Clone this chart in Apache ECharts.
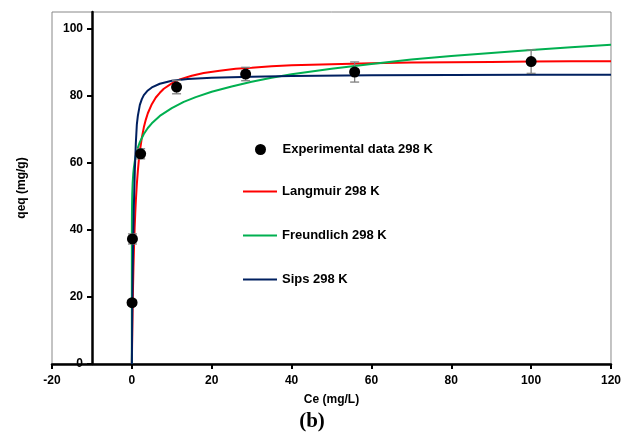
<!DOCTYPE html>
<html>
<head>
<meta charset="utf-8">
<script src="https://cdn.jsdelivr.net/npm/echarts@6.0.0/dist/echarts.min.js"></script>
<style>
  html, body { margin: 0; background: #fff; }
  #chart { width: 624px; height: 437px; }
</style>
</head>
<body>
<div id="chart"></div>
<script>
// experimental points (Ce, qe) and error half-widths
const expCe = [0.05, 0.15, 2.2, 11.2, 28.5, 55.8, 100];
const expQe = [18.3, 37.3, 62.7, 82.6, 86.5, 87.1, 90.2];
const expErr = [0.8, 1.5, 1.5, 2, 2, 3, 3.5];

// model curves, values
const langCe = [0, 0.1, 0.2, 0.3, 0.4, 0.55, 0.7, 0.85, 1, 1.25, 1.5, 1.75, 2, 2.5, 3, 3.5, 4, 5, 6, 7, 8, 10, 12, 15, 18, 22, 26, 30, 35, 40, 50, 60, 70, 80, 90, 100, 110, 120];
const langQe = [0, 9.4, 17, 23.3, 28.7, 35.3, 40.6, 45, 48.7, 53.7, 57.6, 60.8, 63.4, 67.5, 70.6, 72.9, 74.8, 77.5, 79.5, 80.9, 82.1, 83.7, 84.9, 86, 86.8, 87.5, 88.1, 88.4, 88.8, 89.1, 89.4, 89.7, 89.9, 90, 90.1, 90.2, 90.3, 90.3];

const frCe = [0, 0.005, 0.02, 0.05, 0.1, 0.2, 0.35, 0.5, 0.75, 1, 1.5, 2, 3, 4, 5, 7, 10, 13, 16, 20, 25, 30, 35, 40, 50, 60, 70, 80, 90, 100, 110, 120];
const frQe = [0, 38.8, 43.9, 47.6, 50.7, 53.9, 56.7, 58.5, 60.6, 62.2, 64.5, 66.2, 68.6, 70.4, 71.8, 74, 76.3, 78.2, 79.6, 81.2, 82.8, 84.2, 85.4, 86.4, 88.1, 89.5, 90.8, 91.9, 92.8, 93.7, 94.5, 95.2];

const sipsCe = [0, 0.1, 0.2, 0.33, 0.5, 0.75, 1, 1.25, 1.5, 2, 2.5, 3, 4, 5, 7, 10, 14, 20, 30, 40, 60, 80, 100, 120];
const sipsQe = [0, 15, 26, 37, 47, 58, 66, 71.5, 74, 77.3, 79, 80.2, 81.6, 82.5, 83.6, 84.5, 85, 85.4, 85.7, 85.9, 86.1, 86.2, 86.3, 86.3];

const xTicks = { min: -20, max: 120, step: 20 };
const yTicks = { min: 0, max: 105, step: 20 };

const pairs = (xs, ys) => xs.map((x, i) => [x, ys[i]]);
const errData = expCe.map((x, i) => [x, expQe[i] - expErr[i], expQe[i] + expErr[i]]);

const font = 'Liberation Sans';
const txt = { fontFamily: font, fontWeight: 'bold', fontSize: 12, color: '#000' };
const legTxt = { fontFamily: font, fontWeight: 'bold', fontSize: 13, color: '#000' };
const chart = echarts.init(document.getElementById('chart'));

const lineSeries = (name, xs, ys, color) => ({
  name: name,
  type: 'line',
  data: pairs(xs, ys),
  symbol: 'none',
  smooth: false,
  lineStyle: { color: color, width: 2 },
  itemStyle: { color: color },
  z: 2
});

chart.setOption({
  animation: false,
  title: {
    text: '(b)',
    left: 'center',
    top: 406,
    textStyle: { fontFamily: 'Liberation Serif', fontWeight: 'bold', fontSize: 21, color: '#000' }
  },
  grid: {
    left: 52, right: 11, top: 12, bottom: 73,
    show: true, borderColor: '#888', borderWidth: 1
  },
  legend: [
    {
      left: 250, top: 138,
      itemWidth: 34, itemHeight: 11,
      icon: 'circle',
      data: ['Experimental data 298 K'],
      textStyle: legTxt
    },
    {
      orient: 'vertical',
      left: 238, top: 180,
      itemWidth: 34, itemHeight: 2, itemGap: 31,
      icon: 'rect',
      data: ['Langmuir 298 K', 'Freundlich 298 K', 'Sips 298 K'],
      textStyle: legTxt
    }
  ],
  xAxis: {
    type: 'value',
    min: xTicks.min, max: xTicks.max, interval: xTicks.step,
    name: 'Ce (mg/L)',
    nameLocation: 'middle', nameGap: 30,
    nameTextStyle: txt,
    axisLine: { onZero: false, lineStyle: { color: '#000', width: 2.5 } },
    axisTick: { length: 5, lineStyle: { color: '#000', width: 2 } },
    axisLabel: Object.assign({ margin: 11 }, txt),
    splitLine: { show: false }
  },
  yAxis: {
    type: 'value',
    min: yTicks.min, max: yTicks.max, interval: yTicks.step,
    offset: -40,
    name: 'qeq (mg/g)',
    nameLocation: 'middle', nameGap: 64,
    nameTextStyle: txt,
    axisLine: { show: true, onZero: false, lineStyle: { color: '#000', width: 2.5 } },
    axisTick: { show: true, length: 5, lineStyle: { color: '#000', width: 2 } },
    axisLabel: Object.assign({ margin: 9, showMaxLabel: false }, txt),
    splitLine: { show: false }
  },
  series: [
    {
      name: 'Experimental data 298 K',
      type: 'scatter',
      data: pairs(expCe, expQe),
      symbol: 'circle',
      symbolSize: 11,
      itemStyle: { color: '#000', opacity: 1 },
      z: 5
    },
    lineSeries('Langmuir 298 K', langCe, langQe, '#ff0000'),
    lineSeries('Freundlich 298 K', frCe, frQe, '#00b050'),
    lineSeries('Sips 298 K', sipsCe, sipsQe, '#002060'),
    {
      name: 'error',
      type: 'custom',
      data: errData,
      z: 4,
      renderItem: function (params, api) {
        const x = api.value(0);
        const lo = api.coord([x, api.value(1)]);
        const hi = api.coord([x, api.value(2)]);
        const w = 4.5;
        const st = { stroke: '#7f7f7f', lineWidth: 1.3 };
        return {
          type: 'group',
          children: [
            { type: 'line', shape: { x1: hi[0], y1: hi[1], x2: lo[0], y2: lo[1] }, style: st },
            { type: 'line', shape: { x1: hi[0] - w, y1: hi[1], x2: hi[0] + w, y2: hi[1] }, style: st },
            { type: 'line', shape: { x1: lo[0] - w, y1: lo[1], x2: lo[0] + w, y2: lo[1] }, style: st }
          ]
        };
      }
    }
  ]
});
</script>
</body>
</html>
